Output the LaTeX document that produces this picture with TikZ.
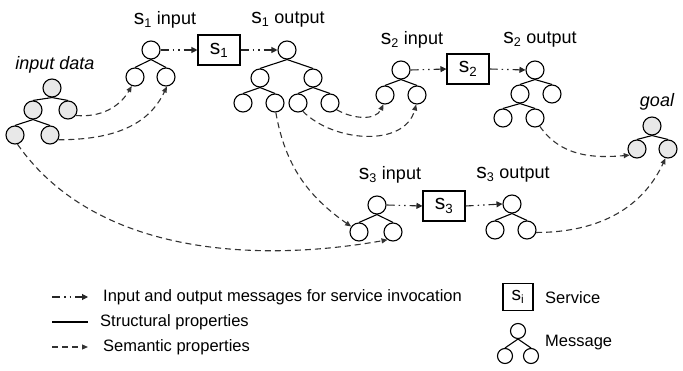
\documentclass[tikz,border=0pt]{standalone}
\usepackage{fontspec}
\setmainfont{Liberation Sans}
\usetikzlibrary{arrows.meta}
\tikzset{
  msg/.style={circle,draw=black,line width=1.1pt,minimum size=18pt,inner sep=0pt},
  gmsg/.style={msg,fill=black!9},
  smsg/.style={msg,minimum size=15pt},
  edge/.style={draw=black,line width=1.1pt},
  svc/.style={draw=black,line width=1.1pt,minimum width=42pt,minimum height=30pt,inner sep=0pt,font=\fontsize{19}{20}\selectfont},
  invoke/.style={draw=black!85,line width=1.1pt,dash pattern=on 8pt off 4pt on 1.5pt off 4pt on 1.5pt off 4pt,-{Triangle[length=6pt,width=6pt]}},
  sem/.style={draw=black!80,line width=1.1pt,dash pattern=on 6pt off 4pt,-{Triangle[length=6pt,width=5pt]}},
  lbl/.style={font=\fontsize{18}{20}\selectfont,inner sep=0pt},
  leg/.style={font=\fontsize{16.5}{18}\selectfont,inner sep=0pt,anchor=west},
}
\newcommand{\sub}[1]{\textsubscript{#1}}
\newcommand{\bigs}{{\fontsize{21}{22}\selectfont s}}
\begin{document}
\begin{tikzpicture}[x=1pt,y=1pt]
\useasboundingbox (0,0) rectangle (683,-371);
% input data
\node[gmsg] (id) at (52,-88) {};
\node[gmsg] (idl) at (33,-110) {};
\node[gmsg] (idr) at (68,-110) {};
\node[gmsg] (idll) at (15,-135) {};
\node[gmsg] (idlr) at (50,-135) {};
\draw[edge] (id.south) -- (idl.north); \draw[edge] (id.south) -- (idr.north);
\draw[edge] (idl.south) -- (idll.north); \draw[edge] (idl.south) -- (idlr.north);
\node[lbl,font=\fontsize{18}{20}\selectfont\itshape] (lid) at (55,-65) {input data};
% s1 input
\node[msg] (a) at (151,-50) {};
\node[msg] (al) at (135,-77) {};
\node[msg] (ar) at (166,-77) {};
\draw[edge] (a.south) -- (al.north); \draw[edge] (a.south) -- (ar.north);
\node[lbl] (la) at (165,-20) {\bigs\sub{1} input};
% s1 box
\node[svc] (s1) at (219,-50) {\bigs\sub{1}};
% s1 output
\node[msg] (b) at (287,-50) {};
\node[msg] (bl) at (260,-78) {};
\node[msg] (br) at (313,-78) {};
\node[msg] (bll) at (243,-103) {};
\node[msg] (blr) at (275,-103) {};
\node[msg] (brl) at (298,-103) {};
\node[msg] (brr) at (330,-103) {};
\draw[edge] (b.south) -- (bl.north); \draw[edge] (b.south) -- (br.north);
\draw[edge] (bl.south) -- (bll.north); \draw[edge] (bl.south) -- (blr.north);
\draw[edge] (br.south) -- (brl.north); \draw[edge] (br.south) -- (brr.north);
\node[lbl] (lb) at (288,-20) {\bigs\sub{1} output};
% s2 input
\node[msg] (c) at (401,-70) {};
\node[msg] (cl) at (385,-95) {};
\node[msg] (cr) at (417,-95) {};
\draw[edge] (c.south) -- (cl.north); \draw[edge] (c.south) -- (cr.north);
\node[lbl] (lc) at (412,-40) {\bigs\sub{2} input};
% s2 box
\node[svc] (s2) at (468,-69) {\bigs\sub{2}};
% s2 output
\node[msg] (d) at (535,-70) {};
\node[msg] (dl) at (520,-94) {};
\node[msg] (dr) at (552,-94) {};
\node[msg] (dll) at (503,-118) {};
\node[msg] (dlr) at (535,-118) {};
\draw[edge] (d.south) -- (dl.north); \draw[edge] (d.south) -- (dr.north);
\draw[edge] (dl.south) -- (dll.north); \draw[edge] (dl.south) -- (dlr.north);
\node[lbl] (ld) at (540,-40) {\bigs\sub{2} output};
% goal
\node[gmsg] (g) at (652,-126) {};
\node[gmsg] (gl) at (637,-149) {};
\node[gmsg] (gr) at (668,-149) {};
\draw[edge] (g.south) -- (gl.north); \draw[edge] (g.south) -- (gr.north);
\node[lbl,font=\fontsize{18}{20}\selectfont\itshape] (lg) at (657,-102) {goal};
% s3 input
\node[msg] (e) at (377,-205) {};
\node[msg] (el) at (359,-232) {};
\node[msg] (er) at (393,-232) {};
\draw[edge] (e.south) -- (el.north); \draw[edge] (e.south) -- (er.north);
\node[lbl] (le) at (390,-175) {\bigs\sub{3} input};
% s3 box
\node[svc] (s3) at (444,-206) {\bigs\sub{3}};
% s3 output
\node[msg] (f) at (512,-204) {};
\node[msg] (fl) at (495,-230) {};
\node[msg] (fr) at (527,-230) {};
\draw[edge] (f.south) -- (fl.north); \draw[edge] (f.south) -- (fr.north);
\node[lbl] (lf) at (513,-175) {\bigs\sub{3} output};
% invocation arrows
\draw[invoke] (a.east) -- (s1.west);
\draw[invoke] (s1.east) -- (b.west);
\draw[invoke] (c.east) -- (s2.west);
\draw[invoke] (s2.east) -- (d.west);
\draw[invoke] (e.east) -- (s3.west);
\draw[invoke] (s3.east) -- (f.west);
% semantic arrows
\draw[sem] (idr.-35) to[out=-5,in=-120] (al.-110);
\draw[sem] (idlr.-30) to[out=0,in=-115] (ar.-85);
\draw[sem] (idll.-75) to[out=-55,in=190,looseness=0.9] (er.-125);
\draw[sem] (blr.-85) to[out=-80,in=145] (el.145);
\draw[sem] (brl.-60) to[out=-45,in=-105] (cr.-95);
\draw[sem] (brr.-45) to[out=-30,in=-115] (cl.-100);
\draw[sem] (dlr.-60) to[out=-55,in=185] (gl.-140);
\draw[sem] (fr.-15) to[out=0,in=-115] (gr.-105);
% legend
\coordinate (l1a) at (52,-297); \coordinate (l1b) at (88,-297);
\coordinate (l2a) at (52,-322); \coordinate (l2b) at (88,-322);
\coordinate (l3a) at (52,-347); \coordinate (l3b) at (88,-347);
\draw[invoke] (l1a) -- (l1b);
\draw[edge] (l2a) -- (l2b);
\draw[sem] (l3a) -- (l3b);
\node[leg] (t1) at (103,-297) {Input and output messages for service invocation};
\node[leg] (t2) at (100,-322) {Structural properties};
\node[leg] (t3) at (103,-347) {Semantic properties};
\node[svc,minimum width=30pt,minimum height=27pt,font=\fontsize{17}{18}\selectfont] (si) at (518,-297) {{\fontsize{19}{20}\selectfont s}\sub{i}};
\node[leg] (ts) at (545,-298) {Service};
\node[smsg] (m) at (518,-331) {};
\node[smsg] (ml) at (505,-356) {};
\node[smsg] (mr) at (531,-356) {};
\draw[edge] (m.south) -- (ml.north); \draw[edge] (m.south) -- (mr.north);
\node[leg] (tm) at (545,-343) {Message};
\end{tikzpicture}
\end{document}
